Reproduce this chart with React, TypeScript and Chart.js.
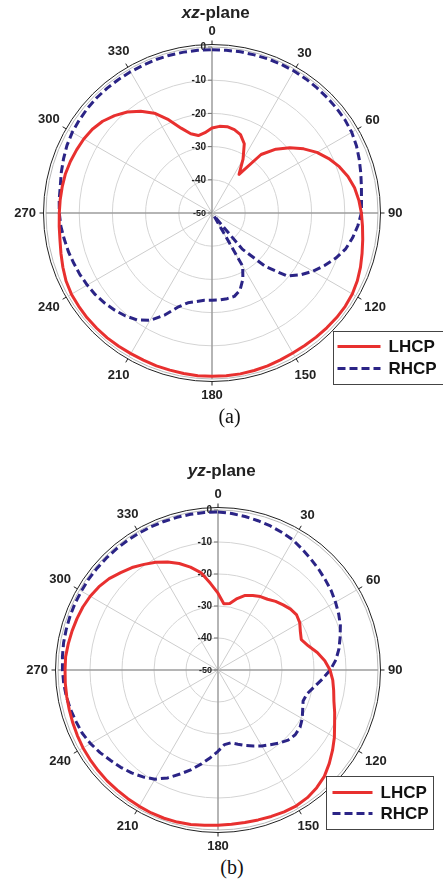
import React, { useEffect, useRef } from 'react';
import { Chart, registerables } from 'chart.js';

Chart.register(...registerables);

// Angle categories (degrees, clockwise from top), 5° resolution
const ANGLES = [
  0, 5, 10, 15, 20, 25, 30, 35, 40, 45, 50, 55,
  60, 65, 70, 75, 80, 85, 90, 95, 100, 105, 110, 115,
  120, 125, 130, 135, 140, 145, 150, 155, 160, 165, 170, 175,
  180, 185, 190, 195, 200, 205, 210, 215, 220, 225, 230, 235,
  240, 245, 250, 255, 260, 265, 270, 275, 280, 285, 290, 295,
  300, 305, 310, 315, 320, 325, 330, 335, 340, 345, 350, 355,
];

// Angle tick labels shown around the plot
const ANGLE_TICKS = [0, 30, 60, 90, 120, 150, 180, 210, 240, 270, 300, 330];

// Radial tick labels (dB)
const RADIAL_TICKS = [-50, -40, -30, -20, -10, 0];

const SERIES_NAMES = ['LHCP', 'RHCP'];

// (a) xz-plane
const XZ_LHCP = [
  -24.4, -23.8, -23.6, -24.0, -24.9, -27.0, -31.3, -35.8, -27.0, -22.8, -19.4, -16.3,
  -13.5, -11.2, -9.2, -7.6, -6.4, -5.6, -5.0, -4.5, -3.9, -3.2, -2.4, -1.7,
  -1.2, -1.0, -1.0, -1.1, -1.2, -1.3, -1.3, -1.2, -1.0, -0.9, -0.8, -0.8,
  -0.8, -0.8, -0.9, -1.0, -1.0, -1.1, -1.1, -1.0, -0.9, -0.9, -0.9, -1.0,
  -1.1, -1.5, -2.2, -2.9, -3.5, -3.8, -4.0, -4.1, -4.2, -4.3, -4.6, -5.0,
  -5.4, -6.0, -7.0, -8.5, -10.3, -12.6, -15.3, -19.0, -22.8, -25.3, -26.3, -25.7,
];
const XZ_RHCP = [
  -0.8, -0.8, -0.7, -0.7, -0.6, -0.6, -0.6, -0.7, -0.8, -0.9, -1.0, -1.1,
  -1.4, -2.0, -2.8, -3.6, -4.3, -4.8, -5.0, -5.9, -7.0, -8.3, -10.3, -12.6,
  -14.9, -17.5, -20.5, -27.2, -35.8, -49.0, -31.5, -28.0, -25.3, -24.0, -23.8, -23.7,
  -23.7, -23.6, -22.9, -22.0, -19.8, -16.0, -12.7, -10.7, -9.5, -8.6, -7.8, -7.1,
  -6.6, -6.1, -5.7, -5.2, -4.8, -4.3, -4.0, -3.8, -3.6, -3.0, -2.4, -1.8,
  -1.4, -1.2, -1.0, -0.9, -0.9, -0.9, -0.9, -0.9, -0.8, -0.8, -0.8, -0.8,
];

// (b) yz-plane
const YZ_LHCP = [
  -26.0, -29.2, -28.9, -26.9, -25.2, -24.3, -23.5, -23.0, -22.0, -21.2, -20.4, -20.0,
  -20.5, -21.6, -22.3, -20.8, -18.5, -16.5, -15.0, -14.0, -13.3, -12.5, -11.2, -9.8,
  -8.0, -6.3, -4.6, -3.0, -2.0, -1.3, -1.0, -1.1, -1.3, -1.5, -1.6, -1.6,
  -1.5, -1.3, -1.0, -0.8, -0.7, -0.7, -0.8, -0.9, -1.0, -1.0, -1.1, -1.2,
  -1.3, -1.5, -1.7, -1.9, -2.0, -2.1, -2.2, -2.2, -2.5, -2.8, -3.1, -3.4,
  -3.9, -4.6, -5.6, -7.0, -8.2, -9.7, -11.1, -12.8, -14.6, -16.7, -19.1, -22.8,
];
const YZ_RHCP = [
  -0.6, -0.9, -1.3, -1.7, -2.1, -2.6, -3.1, -4.0, -4.8, -5.5, -6.2, -6.8,
  -7.6, -8.4, -9.3, -10.5, -11.6, -13.0, -14.9, -17.3, -19.5, -21.2, -21.7, -20.8,
  -19.6, -18.7, -18.5, -19.0, -20.2, -21.5, -22.6, -23.8, -24.9, -26.0, -26.9, -26.6,
  -24.6, -22.5, -20.2, -17.8, -15.4, -12.8, -10.6, -9.2, -8.0, -7.0, -6.1, -5.0,
  -4.0, -3.2, -2.8, -2.3, -1.9, -1.6, -1.4, -1.2, -1.0, -0.9, -0.8, -0.7,
  -0.7, -0.6, -0.6, -0.6, -0.6, -0.6, -0.6, -0.6, -0.6, -0.6, -0.6, -0.6,
];

const RED = '#e8302f';
const NAVY = '#2b2486';
const FONT = 'Arial, "Liberation Sans", sans-serif';

const decoPlugin = {
  id: 'polarDeco',
  beforeDatasetsDraw(chart: any) {
    const s = chart.scales.r;
    const ctx = chart.ctx;
    const R = s.drawingArea;
    const cx = s.xCenter;
    const cy = s.yCenter;
    ctx.save();
    // outer frame circle
    ctx.strokeStyle = '#222';
    ctx.lineWidth = 1;
    ctx.beginPath();
    ctx.arc(cx, cy, R + 2.5, 0, Math.PI * 2);
    ctx.stroke();
    // angle ticks and labels
    ctx.font = `bold 13px ${FONT}`;
    ctx.fillStyle = '#222';
    ctx.textAlign = 'center';
    ctx.textBaseline = 'middle';
    const labels = chart.data.labels as number[];
    labels.forEach((lab, i) => {
      if (!ANGLE_TICKS.includes(lab)) return;
      const a = s.getIndexAngle(i);
      const p1 = s.getPointPosition(i, R + 2.5);
      const p2 = s.getPointPosition(i, R + 6.5);
      ctx.beginPath();
      ctx.moveTo(p1.x, p1.y);
      ctx.lineTo(p2.x, p2.y);
      ctx.stroke();
      const text = String(lab);
      const w = ctx.measureText(text).width;
      const d = R + 10 + Math.abs(Math.sin(a)) * w / 2 + Math.abs(Math.cos(a)) * 6;
      const p = s.getPointPosition(i, d);
      ctx.fillText(text, p.x, p.y + 0.5);
    });
    // radial tick labels
    ctx.textAlign = 'right';
    RADIAL_TICKS.forEach((v) => {
      const d = s.getDistanceFromCenterForValue(v);
      ctx.font = v === -50 ? `bold 9px ${FONT}` : `bold 10px ${FONT}`;
      ctx.fillStyle = '#222';
      ctx.fillText(String(v), cx - 6, cy - d + 0.5);
      ctx.strokeStyle = '#777';
      ctx.beginPath();
      ctx.moveTo(cx - 4, cy - d);
      ctx.lineTo(cx, cy - d);
      ctx.stroke();
    });
    ctx.restore();
  },
  afterDraw(chart: any, _args: any, opts: any) {
    const L = opts && opts.box;
    if (!L) return;
    const ctx = chart.ctx;
    ctx.save();
    ctx.fillStyle = '#fff';
    ctx.fillRect(L.x, L.y, L.w, L.h);
    ctx.strokeStyle = '#444';
    ctx.lineWidth = 1;
    ctx.strokeRect(L.x, L.y, L.w, L.h);
    chart.data.datasets.forEach((ds: any, i: number) => {
      const y = L.y + L.row0 + i * L.rowGap;
      ctx.strokeStyle = ds.borderColor;
      ctx.lineWidth = ds.borderWidth;
      ctx.setLineDash(ds.borderDash || []);
      ctx.beginPath();
      ctx.moveTo(L.x + L.lineX0, y);
      ctx.lineTo(L.x + L.lineX1, y);
      ctx.stroke();
      ctx.setLineDash([]);
      ctx.fillStyle = '#111';
      ctx.font = `bold 17px ${FONT}`;
      ctx.textAlign = 'left';
      ctx.textBaseline = 'middle';
      ctx.fillText(ds.label, L.x + L.textX, y + 1);
    });
    ctx.restore();
  },
};

function makeConfig(lhcp: number[], rhcp: number[], padding: any, box: any) {
  return {
    type: 'radar' as const,
    data: {
      labels: ANGLES,
      datasets: [
        {
          label: SERIES_NAMES[0],
          data: lhcp,
          borderColor: RED,
          borderWidth: 3,
          pointRadius: 0,
          fill: false,
          tension: 0,
          borderJoinStyle: 'round',
        },
        {
          label: SERIES_NAMES[1],
          data: rhcp,
          borderColor: NAVY,
          borderWidth: 3,
          borderDash: [8, 4],
          pointRadius: 0,
          fill: false,
          tension: 0,
          borderJoinStyle: 'round',
        },
      ],
    },
    options: {
      animation: false,
      responsive: false,
      maintainAspectRatio: false,
      devicePixelRatio: 1,
      layout: { padding },
      plugins: {
        legend: { display: false },
        tooltip: { enabled: false },
        polarDeco: { box },
      },
      scales: {
        r: {
          min: -50,
          max: 0,
          beginAtZero: false,
          startAngle: 0,
          ticks: { display: false, stepSize: 10 },
          pointLabels: { display: false },
          grid: {
            circular: true,
            color: (c: any) => (c.tick && c.tick.value === 0 ? '#b8b8b8' : '#d4d4d4'),
            lineWidth: 1,
          },
          angleLines: {
            display: true,
            color: (c: any) => (c.index % 18 === 0 ? '#9c9c9c' : '#cdcdcd'),
            lineWidth: (c: any) => (c.index % 18 === 0 ? 1.5 : c.index % 6 === 0 ? 1 : 0),
          },
        },
      },
    },
    plugins: [decoPlugin],
  };
}

function PolarChart(props: {
  lhcp: number[];
  rhcp: number[];
  top: number;
  height: number;
  padding: any;
  box: any;
}) {
  const ref = useRef<HTMLCanvasElement | null>(null);
  useEffect(() => {
    if (!ref.current) return;
    const chart = new Chart(ref.current, makeConfig(props.lhcp, props.rhcp, props.padding, props.box) as any);
    return () => chart.destroy();
  }, []);
  return (
    <canvas
      ref={ref}
      width={443}
      height={props.height}
      style={{ position: 'absolute', left: 0, top: props.top, width: 443, height: props.height }}
    />
  );
}

const textAbs = (x: number, y: number): React.CSSProperties => ({
  position: 'absolute',
  left: x,
  top: y,
  transform: 'translate(-50%, -50%)',
  whiteSpace: 'nowrap',
  lineHeight: 1,
});

export default function App() {
  return (
    <div style={{ position: 'absolute', left: 0, top: 0, width: 443, height: 880, background: '#fff', overflow: 'hidden' }}>
      <PolarChart
        lhcp={XZ_LHCP}
        rhcp={XZ_RHCP}
        top={0}
        height={402}
        padding={{ left: 46, top: 47, right: 64, bottom: 22 }}
        box={{ x: 333.5, y: 331.5, w: 110, h: 53, row0: 15, rowGap: 22, lineX0: 4, lineX1: 47, textX: 55 }}
      />
      <PolarChart
        lhcp={YZ_LHCP}
        rhcp={YZ_RHCP}
        top={440}
        height={413}
        padding={{ left: 58, top: 70, right: 64, bottom: 22 }}
        box={{ x: 326.5, y: 336.5, w: 107, h: 53, row0: 16, rowGap: 21, lineX0: 6, lineX1: 46, textX: 54 }}
      />
      <div style={{ ...textAbs(215.8, 13), font: `bold 17px ${FONT}`, color: '#222' }}>
        <i>xz</i>-plane
      </div>
      <div style={{ ...textAbs(221.7, 471), font: `bold 17px ${FONT}`, color: '#222' }}>
        <i>yz</i>-plane
      </div>
      <div style={{ ...textAbs(229.5, 416), font: '20px "Liberation Serif", "Times New Roman", serif', color: '#111' }}>
        (a)
      </div>
      <div style={{ ...textAbs(232, 867), font: '20px "Liberation Serif", "Times New Roman", serif', color: '#111' }}>
        (b)
      </div>
    </div>
  );
}
